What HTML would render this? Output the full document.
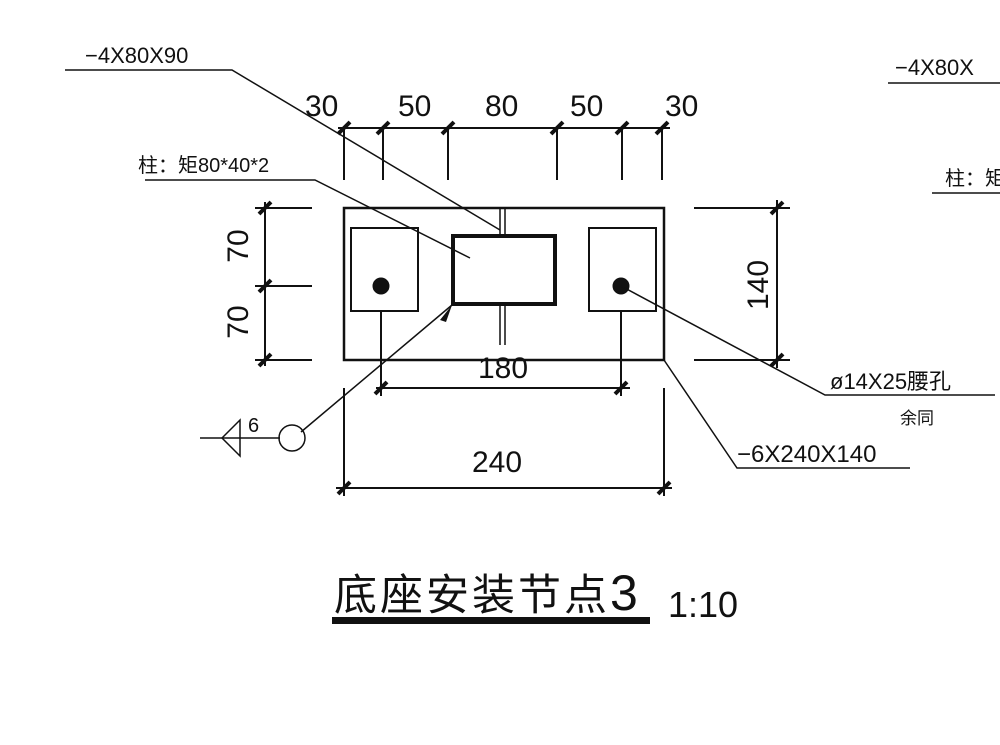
<!DOCTYPE html>
<html><head><meta charset="utf-8"><style>body{margin:0;background:#fff}svg{display:block}</style></head><body>
<svg width="1000" height="745" viewBox="0 0 1000 745" xmlns="http://www.w3.org/2000/svg" font-family="Liberation Sans, Noto Sans CJK SC, sans-serif" fill="none" stroke="#111">
<g stroke-width="2.5">
<rect x="344" y="208" width="320" height="152"/>
<rect x="351" y="228" width="67" height="83" stroke-width="2"/>
<rect x="589" y="228" width="67" height="83" stroke-width="2"/>
<rect x="453" y="236" width="102" height="68" stroke-width="4"/>
</g>
<circle cx="381" cy="286" r="8" fill="#111"/><circle cx="621" cy="286" r="8" fill="#111"/>
<g stroke-width="1.5">
<line x1="500" y1="208" x2="500" y2="236"/><line x1="505" y1="208" x2="505" y2="236"/>
<line x1="500" y1="304" x2="500" y2="345"/><line x1="505" y1="304" x2="505" y2="345"/>
</g>
<g stroke-width="2">
<line x1="338" y1="128" x2="670" y2="128"/>
<line x1="344" y1="128" x2="344" y2="180"/><line x1="383" y1="128" x2="383" y2="180"/><line x1="448" y1="128" x2="448" y2="180"/><line x1="557" y1="128" x2="557" y2="180"/><line x1="622" y1="128" x2="622" y2="180"/><line x1="662" y1="128" x2="662" y2="180"/>
<line x1="265" y1="202" x2="265" y2="366"/>
<line x1="255" y1="208" x2="312" y2="208"/><line x1="255" y1="286" x2="312" y2="286"/><line x1="255" y1="360" x2="312" y2="360"/>
<line x1="777" y1="200" x2="777" y2="368"/>
<line x1="694" y1="208" x2="790" y2="208"/><line x1="694" y1="360" x2="790" y2="360"/>
<line x1="376" y1="388" x2="630" y2="388"/>
<line x1="381" y1="311" x2="381" y2="396"/><line x1="621" y1="311" x2="621" y2="396"/>
<line x1="336" y1="488" x2="672" y2="488"/>
<line x1="344" y1="388" x2="344" y2="496"/><line x1="664" y1="388" x2="664" y2="496"/>
</g>
<g stroke-width="4">
<path d="M338 134L350 122M377 134L389 122M442 134L454 122M551 134L563 122M616 134L628 122M656 134L668 122"/>
<path d="M259 214L271 202M259 292L271 280M259 366L271 354M771 214L783 202M771 366L783 354"/>
<path d="M375 394L387 382M615 394L627 382M338 494L350 482M658 494L670 482"/>
</g>
<g stroke-width="1.5">
<polyline points="65,70 232,70 500,230"/>
<polyline points="145,180 315,180 470,258"/>
<polyline points="621,286 825,395 995,395"/>
<polyline points="664,360 737,468 910,468"/>
<line x1="888" y1="83" x2="1000" y2="83"/>
<line x1="932" y1="193" x2="1000" y2="193"/>
<line x1="301" y1="432" x2="452" y2="305"/>
<line x1="200" y1="438" x2="280" y2="438"/>
<circle cx="292" cy="438" r="13"/>
<polygon points="222,438 240,420 240,456"/>
</g>
<path d="M452 305L440 320L446 322Z" fill="#111" stroke="none"/>
<g fill="#111" stroke="none" font-size="30">
<text x="305" y="116">30</text><text x="398" y="116">50</text><text x="485" y="116">80</text><text x="570" y="116">50</text><text x="665" y="116">30</text>
<text x="478" y="378">180</text><text x="472" y="472">240</text>
<text transform="translate(248,246) rotate(-90)" text-anchor="middle">70</text>
<text transform="translate(248,322) rotate(-90)" text-anchor="middle">70</text>
<text transform="translate(768,285) rotate(-90)" text-anchor="middle">140</text>
<g font-size="22">
<text x="85" y="63">−4X80X90</text>
<text x="138" y="172" font-size="20">柱：矩80*40*2</text>
<text x="830" y="389">ø14X25腰孔</text>
<text x="900" y="424" font-size="17">余同</text>
<text x="737" y="462" font-size="24">−6X240X140</text>
<text x="895" y="75">−4X80X</text>
<text x="945" y="185" font-size="20">柱：矩</text>
<text x="248" y="432" font-size="20">6</text>
</g>
<text x="334" y="610" font-size="43" letter-spacing="3">底座安装节点<tspan font-size="50">3</tspan></text>
<text x="668" y="617" font-size="36">1:10</text>
<rect x="332" y="617" width="318" height="7"/>
</g>
</svg>
</body></html>
